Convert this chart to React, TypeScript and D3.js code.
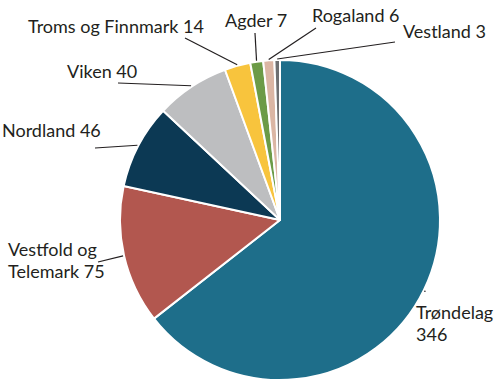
import React from 'react';
import * as d3 from 'd3';

const regions = ['Trøndelag', 'Vestfold og Telemark', 'Nordland', 'Viken', 'Troms og Finnmark', 'Agder', 'Rogaland', 'Vestland'];
const counts = [346, 75, 46, 40, 14, 7, 6, 3];
const colors = ['#1e6e8a', '#b2574f', '#0c3954', '#bdbec0', '#f8c43d', '#6c9b47', '#dbb6a4', '#6e6f71'];
// label text lines per slice
const labelLines = [
  ['Trøndelag', '346'],
  ['Vestfold og', 'Telemark 75'],
  ['Nordland 46'],
  ['Viken 40'],
  ['Troms og Finnmark 14'],
  ['Agder 7'],
  ['Rogaland 6'],
  ['Vestland 3'],
];

// layout for labels: text anchor (x, first baseline), leader end point
const labelPos = [
  { x: 416, y: 319, lx: 425, ly: 292 },
  { x: 8, y: 256, lx: 98, ly: 262 },
  { x: 2, y: 137, lx: 95, ly: 148 },
  { x: 67, y: 78, lx: 118, ly: 83 },
  { x: 28, y: 33, lx: 185, ly: 38 },
  { x: 225, y: 27, lx: 255, ly: 33 },
  { x: 312, y: 22, lx: 316, ly: 28 },
  { x: 403, y: 38, lx: 395, ly: 42 },
];

export default function App() {
  const width = 500;
  const height = 387;
  const cx = 280;
  const cy = 220;
  const r = 160;

  const data = regions.map((name, i) => ({ name, value: counts[i], i }));
  const pie = d3.pie<any>().sort(null).value(d => d.value);
  const arcs = pie(data);
  const arc = d3.arc<any>().innerRadius(0).outerRadius(r);

  return (
    <svg width={width} height={height} style={{ position: 'absolute', left: 0, top: 0 }}
      fontFamily="Lato, 'Open Sans', sans-serif">
      <g transform={`translate(${cx},${cy})`}>
        {arcs.map((a, i) => (
          <path key={i} d={arc(a) || ''} fill={colors[i]} stroke="#fff" strokeWidth={2} strokeLinejoin="round" />
        ))}
      </g>
      {arcs.map((a, i) => {
        const mid = (a.startAngle + a.endAngle) / 2;
        const sx = cx + (r + 1) * Math.sin(mid);
        const sy = cy - (r + 1) * Math.cos(mid);
        const p = labelPos[i];
        return (
          <g key={'l' + i}>
            <line x1={sx} y1={sy} x2={p.lx} y2={p.ly} stroke="#231f20" strokeWidth={1.2} />
            <text x={p.x} y={p.y} fontSize={18} fill="#231f20">
              {labelLines[i].map((t, j) => (
                <tspan key={j} x={p.x} dy={j === 0 ? 0 : 22}>{t}</tspan>
              ))}
            </text>
          </g>
        );
      })}
    </svg>
  );
}
